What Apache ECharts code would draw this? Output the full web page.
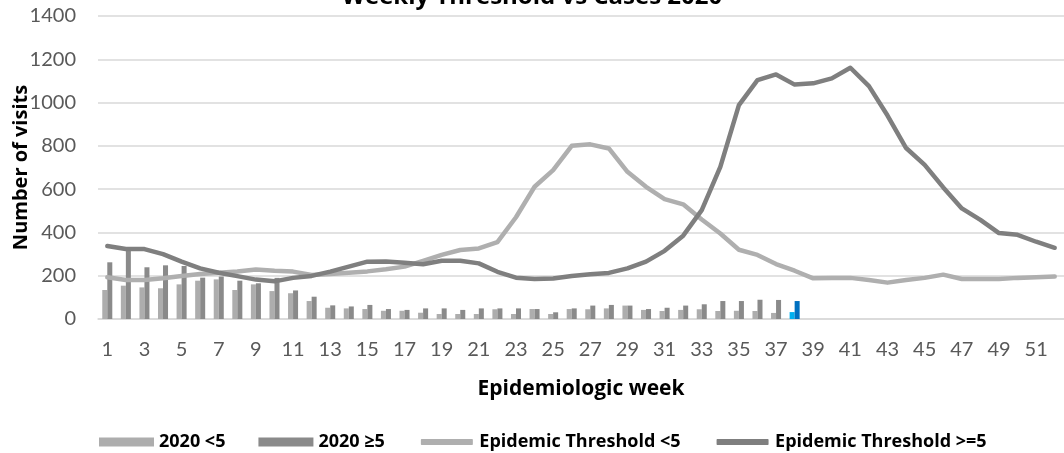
<!DOCTYPE html>
<html>
<head>
<meta charset="utf-8">
<script src="https://cdn.jsdelivr.net/npm/echarts@6/dist/echarts.min.js"></script>
<style>
html,body{margin:0;padding:0;background:#fff;}
#chart{width:1064px;height:453px;}
</style>
</head>
<body>
<div id="chart"></div>
<script>
const weeks = ['1','2','3','4','5','6','7','8','9','10','11','12','13','14','15','16','17','18','19','20','21','22','23','24','25','26','27','28','29','30','31','32','33','34','35','36','37','38','39','40','41','42','43','44','45','46','47','48','49','50','51','52'];
const yTicks = [0, 200, 400, 600, 800, 1000, 1200, 1400];

const cases2020Lt5 = [134,154,146,142,160,177,183,134,160,129,119,83,52,49,46,38,38,29,23,23,23,45,23,46,23,46,45,49,62,42,37,42,45,37,38,37,28,32];
const cases2020Ge5 = [262,320,239,248,245,191,196,177,165,190,132,103,63,58,65,46,42,49,49,42,49,49,49,46,31,49,62,65,62,46,52,62,68,83,83,89,88,83];
const thresholdLt5 = [193,180,180,188,199,208,214,219,229,223,219,203,208,214,220,230,242,269,296,319,326,355,470,611,688,800,807,788,680,611,554,530,460,395,320,296,254,223,188,190,190,180,168,180,190,205,185,185,185,190,193,196];
const thresholdGe5 = [337,323,323,300,265,234,214,198,182,174,190,199,219,242,265,266,260,253,269,269,257,218,191,185,187,199,207,213,234,265,315,385,503,703,988,1104,1130,1083,1089,1112,1161,1076,940,790,712,608,511,458,397,389,357,329];

const TICK_FONT = 'Lato, "Open Sans", sans-serif';
const BOLD_FONT = '"Open Sans", "Noto Sans", sans-serif';
const lastIdx = cases2020Lt5.length - 1;
const ltData = cases2020Lt5.map((v, i) => i === lastIdx ? {value: v, itemStyle: {color: '#00B0F0'}} : v);
const geData = cases2020Ge5.map((v, i) => i === lastIdx ? {value: v, itemStyle: {color: '#0070C0'}} : v);

const chart = echarts.init(document.getElementById('chart'), null, {renderer: 'canvas'});
chart.setOption({
  animation: false,
  backgroundColor: '#fff',
  title: {
    text: 'Weekly Threshold vs Cases 2020',
    left: 'center',
    top: -15,
    padding: 0,
    textStyle: {fontFamily: BOLD_FONT, fontWeight: 'bold', fontSize: 24, color: '#000'}
  },
  grid: {left: 98, right: 0, top: 16, bottom: 134, containLabel: false, outerBoundsMode: 'none'},
  legend: {
    top: 428,
    left: 94,
    itemWidth: 55,
    itemHeight: 9,
    itemGap: 33,
    textStyle: {fontFamily: BOLD_FONT, fontWeight: 'bold', fontSize: 18, color: '#000'},
    data: [
      {name: '2020 <5', icon: 'rect'},
      {name: '2020 ≥5', icon: 'rect'},
      {name: 'Epidemic Threshold <5', icon: 'roundRect', itemStyle: {borderColor: '#fff', borderWidth: 3}},
      {name: 'Epidemic Threshold >=5', icon: 'roundRect', itemStyle: {borderColor: '#fff', borderWidth: 3}}
    ]
  },
  xAxis: {
    type: 'category',
    data: weeks,
    boundaryGap: true,
    axisTick: {show: false},
    axisLine: {lineStyle: {color: '#D9D9D9', width: 1.5}},
    axisLabel: {interval: 1, fontSize: 20, color: '#595959', margin: 21, fontFamily: TICK_FONT},
    name: 'Epidemiologic week',
    nameLocation: 'middle',
    nameGap: 60,
    nameMoveOverlap: false,
    nameTextStyle: {fontFamily: BOLD_FONT, fontWeight: 'bold', fontSize: 21, color: '#000'}
  },
  yAxis: {
    type: 'value',
    min: yTicks[0],
    max: yTicks[yTicks.length - 1],
    interval: yTicks[1] - yTicks[0],
    axisLine: {show: false},
    axisTick: {show: false},
    splitLine: {lineStyle: {color: '#D9D9D9', width: 1.5}},
    axisLabel: {fontSize: 20, color: '#595959', margin: 22, fontFamily: TICK_FONT, formatter: v => String(v)},
    name: 'Number of visits',
    nameLocation: 'middle',
    nameGap: 67,
    nameMoveOverlap: false,
    nameTextStyle: {fontFamily: BOLD_FONT, fontWeight: 'bold', fontSize: 20, color: '#000'}
  },
  series: [
    {name: '2020 <5', type: 'bar', data: ltData, barGap: '0%', barCategoryGap: '46%', itemStyle: {color: '#ADADAD'}},
    {name: '2020 ≥5', type: 'bar', data: geData, barGap: '0%', barCategoryGap: '46%', itemStyle: {color: '#8A8A8A'}},
    {name: 'Epidemic Threshold <5', type: 'line', data: thresholdLt5, symbol: 'none', smooth: false,
      itemStyle: {color: '#AFAFAF'}, lineStyle: {color: '#AFAFAF', width: 4.5, cap: 'round', join: 'round'}},
    {name: 'Epidemic Threshold >=5', type: 'line', data: thresholdGe5, symbol: 'none', smooth: false,
      itemStyle: {color: '#7F7F7F'}, lineStyle: {color: '#7F7F7F', width: 4.5, cap: 'round', join: 'round'}}
  ]
});
</script>
</body>
</html>
